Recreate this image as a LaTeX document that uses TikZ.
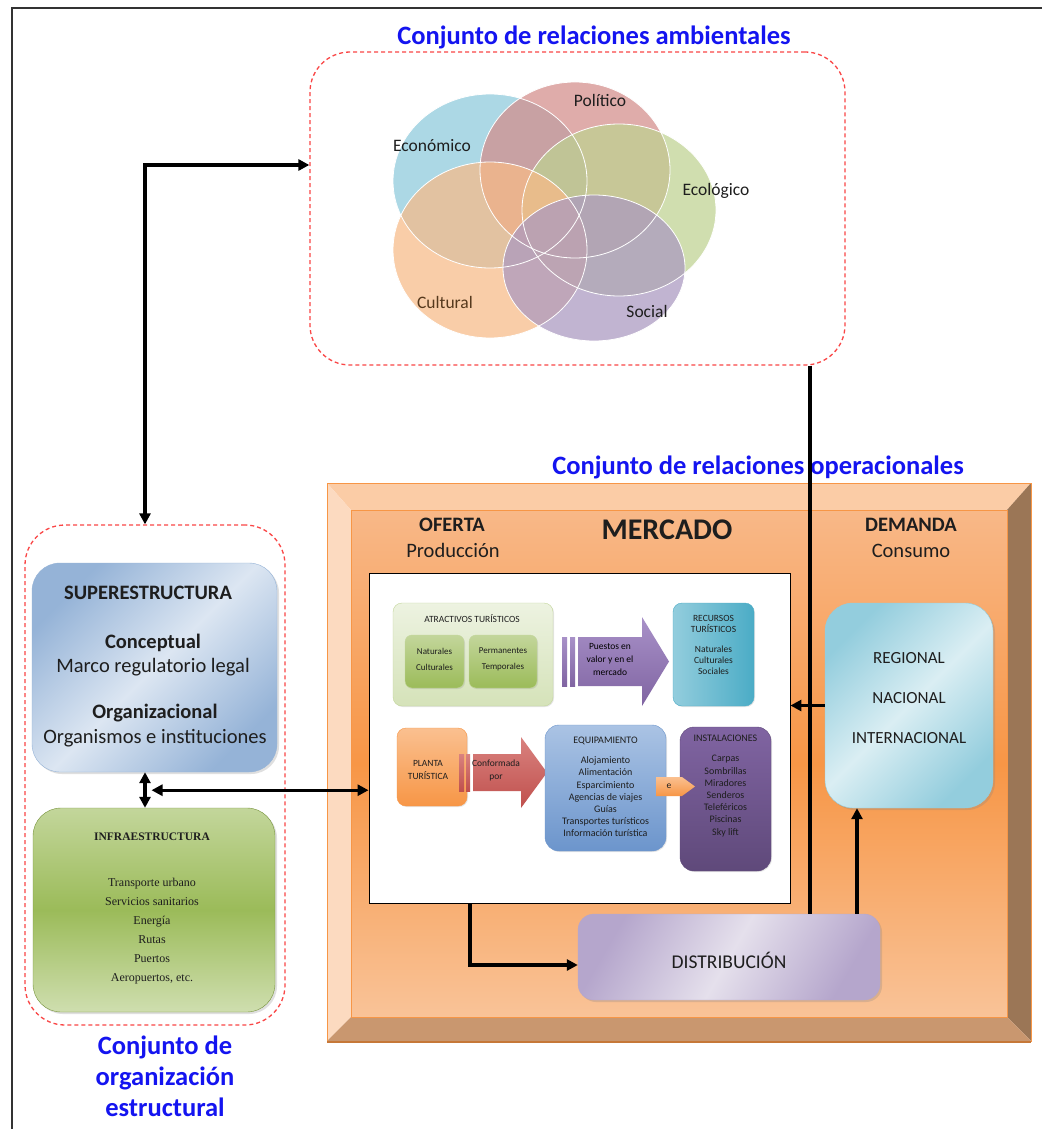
\documentclass[tikz,border=0pt]{standalone}
\usepackage{fontspec}
\setmainfont{Carlito}
\newfontfamily\serifb{Liberation Serif}
\usetikzlibrary{arrows.meta,shadows}
\definecolor{TitleBlue}{RGB}{20,20,240}
\definecolor{DashRed}{RGB}{250,70,70}
\definecolor{cEco}{RGB}{140,202,219}
\definecolor{cPol}{RGB}{212,140,138}
\definecolor{cEcol}{RGB}{190,210,145}
\definecolor{cCul}{RGB}{248,186,135}
\definecolor{cSoc}{RGB}{170,152,192}
\definecolor{bevTop}{RGB}{251,204,166}
\definecolor{bevLeft}{RGB}{252,218,192}
\definecolor{bevRight}{RGB}{155,118,86}
\definecolor{bevBot}{RGB}{201,151,111}
\definecolor{faceTop}{RGB}{248,184,136}
\definecolor{faceMid}{RGB}{247,150,70}
\definecolor{faceBot}{RGB}{249,195,152}
\definecolor{blueDark}{RGB}{149,179,215}
\definecolor{blueLight}{RGB}{220,230,242}
\definecolor{greenA}{RGB}{195,214,155}
\definecolor{greenB}{RGB}{155,187,89}
\definecolor{greenBorder}{RGB}{119,147,60}
\definecolor{tealA}{RGB}{147,205,221}
\definecolor{tealB}{RGB}{75,172,198}
\definecolor{tealLight}{RGB}{218,238,243}
\definecolor{lavA}{RGB}{229,224,236}
\definecolor{lavB}{RGB}{181,166,204}
\definecolor{orA}{RGB}{250,192,144}
\definecolor{orB}{RGB}{247,150,70}
\definecolor{purA}{RGB}{168,145,200}
\definecolor{purB}{RGB}{128,100,162}
\definecolor{purDarkA}{RGB}{128,100,162}
\definecolor{purDarkB}{RGB}{95,73,122}
\definecolor{redA}{RGB}{217,130,127}
\definecolor{redB}{RGB}{192,80,77}
\definecolor{eqA}{RGB}{170,195,228}
\definecolor{eqB}{RGB}{108,149,204}
\definecolor{txt}{RGB}{30,30,30}
\begin{document}
\begin{tikzpicture}[x=1pt,y=-1pt,
  ttl/.style={font=\fontsize{26.5}{31}\selectfont\bfseries, text=TitleBlue, align=center, inner sep=0pt},
  dashbox/.style={draw=DashRed, line width=1.3pt, dash pattern=on 4pt off 3pt, rounded corners=40pt, inner sep=0pt},
  conn/.style={line width=3.2pt, draw=black},
  arr/.style={arrows={-Triangle[length=11pt,width=11pt]}},
  darr/.style={arrows={Triangle[length=11pt,width=11pt]-Triangle[length=11pt,width=11pt]}},
  venn/.style={fill opacity=0.72},
  vlab/.style={font=\fontsize{17.5}{20}\selectfont, text=txt},
  bigbox/.style={rounded corners=28pt, inner sep=0pt, drop shadow={opacity=0.25, shadow xshift=2pt, shadow yshift=-2pt}},
  smallbox/.style={rounded corners=9pt, inner sep=0pt, drop shadow={opacity=0.2, shadow xshift=1pt, shadow yshift=-1pt}},
  tiny/.style={font=\fontsize{9.5}{11}\selectfont, text=txt, align=center, inner sep=0pt},
  small/.style={font=\fontsize{10}{12.2}\selectfont, text=txt, align=center, inner sep=0pt},
  lbl/.style={font=\fontsize{20.5}{24}\selectfont, text=txt, inner sep=0pt},
  lblb/.style={font=\fontsize{20.5}{24}\selectfont\bfseries, text=txt, inner sep=0pt},
  dlbl/.style={font=\fontsize{17}{20}\selectfont, text=txt, inner sep=0pt}
]
\useasboundingbox (0,0) rectangle (1041,1129);
\fill[white] (0,0) rectangle (1041,1129);
% outer frame
\draw[line width=2.5pt, draw=black!80] (12,1140) -- (12,8) -- (1050,8);

% ===== environmental relations =====
\node[ttl] (tenv) at (594,37) {Conjunto de relaciones ambientales};
\node[dashbox, minimum width=535pt, minimum height=313pt] (env) at (577.5,208.5) {};
\fill[venn, fill=cEco] (490,181) ellipse [x radius=97pt, y radius=87pt];
\fill[venn, fill=cPol] (575,170) ellipse [x radius=95pt, y radius=88pt];
\fill[venn, fill=cEcol] (619,210) ellipse [x radius=97pt, y radius=86pt];
\fill[venn, fill=cCul] (490,250) ellipse [x radius=97pt, y radius=88pt];
\fill[venn, fill=cSoc] (594,268) ellipse [x radius=91pt, y radius=73pt];
\draw[white, line width=0.8pt] (490,181) ellipse [x radius=97pt, y radius=87pt];
\draw[white, line width=0.8pt] (575,170) ellipse [x radius=95pt, y radius=88pt];
\draw[white, line width=0.8pt] (619,210) ellipse [x radius=97pt, y radius=86pt];
\draw[white, line width=0.8pt] (490,250) ellipse [x radius=97pt, y radius=88pt];
\draw[white, line width=0.8pt] (594,268) ellipse [x radius=91pt, y radius=73pt];
\node[vlab] (leco) at (432,146) {Económico};
\node[vlab] (lpol) at (600,100) {Político};
\node[vlab] (lecol) at (716,191) {Ecológico};
\node[vlab, text=black!55!brown] (lcul) at (445,302) {Cultural};
\node[vlab] (lsoc) at (647,311) {Social};

% ===== operational relations frame =====
\node[ttl] (top) at (758,467) {Conjunto de relaciones operacionales};
\fill[bevTop] (327,483) -- (1031,483) -- (1007,510) -- (351,510) -- cycle;
\fill[bevLeft] (327,483) -- (351,510) -- (351,1017) -- (327,1041) -- cycle;
\fill[bevRight] (1031,483) -- (1031,1041) -- (1007,1017) -- (1007,510) -- cycle;
\fill[bevBot] (327,1041) -- (1031,1041) -- (1007,1017) -- (351,1017) -- cycle;
\shade[top color=faceTop, bottom color=faceBot, middle color=faceMid] (351,510) rectangle (1007,1017);
\draw[orB, line width=0.8pt] (327,483) rectangle (1031,1041);
\draw[orB!80!black, line width=2pt] (327,1042) -- (1031,1042);
\draw[orB, line width=0.6pt] (351,510) rectangle (1007,1017);

\node[lblb] (oferta) at (452,525) {OFERTA};
\node[lbl] (prod) at (453,550) {Producción};
\node[font=\fontsize{30}{32}\selectfont\bfseries, text=txt] (merc) at (667,530) {MERCADO};
\node[lblb] (dema) at (911,525) {DEMANDA};
\node[lbl] (cons) at (911,551) {Consumo};

% white box
\node[draw=black, line width=0.9pt, fill=white, minimum width=421pt, minimum height=330pt, inner sep=0pt] (white) at (579.5,738) {};

% atractivos
\node[smallbox, draw=greenA, top color=white!70!greenA, bottom color=greenA!70, minimum width=160pt, minimum height=103pt] (atr) at (473,654.5) {};
\node[tiny] (atrt) at (472,619) {ATRACTIVOS TURÍSTICOS};
\node[smallbox, draw=greenA, top color=greenA, bottom color=greenB, minimum width=59pt, minimum height=53pt, rounded corners=7pt] (nat) at (434.5,661.5) {};
\node[tiny, font=\fontsize{9}{11}\selectfont] (natt) at (434.5,659) {Naturales\\[5pt]Culturales};
\node[smallbox, draw=greenA, top color=greenA, bottom color=greenB, minimum width=68pt, minimum height=53pt, rounded corners=7pt] (perm) at (503,661.5) {};
\node[tiny, font=\fontsize{9}{11}\selectfont] (permt) at (503,659) {Permanentes\\[5pt]Temporales};

% purple fat arrow
\shade[top color=purA, bottom color=purB] (562,637) rectangle (567,686);
\shade[top color=purA, bottom color=purB] (570,637) rectangle (575,686);
\shade[top color=purA, bottom color=purB] (578,637) -- (642,637) -- (642,617) -- (669,661.5) -- (642,706) -- (642,686) -- (578,686) -- cycle;
\node[tiny, text=black, font=\fontsize{9.5}{13}\selectfont] (puestos) at (610,659) {Puestos en\\valor y en el\\mercado};

% recursos
\node[smallbox, draw=tealB, left color=tealA, right color=tealB, minimum width=81pt, minimum height=103pt] (rec) at (713.5,654.5) {};
\node[tiny] (rect) at (713.5,645) {RECURSOS\\TURÍSTICOS\\[9pt]Naturales\\Culturales\\Sociales};

% planta
\node[smallbox, draw=orB, top color=orA, bottom color=orB, minimum width=70pt, minimum height=78pt] (planta) at (432,767) {};
\node[tiny, font=\fontsize{9.5}{13}\selectfont] (plantat) at (428,770) {PLANTA\\TURÍSTICA};
% red fat arrow
\shade[top color=redA, bottom color=redB] (459,754) rectangle (464,791);
\shade[top color=redA, bottom color=redB] (466,754) rectangle (470,791);
\shade[top color=redA, bottom color=redB] (473,754) -- (521,754) -- (521,737) -- (547,772.5) -- (521,808) -- (521,791) -- (473,791) -- cycle;
\node[tiny, font=\fontsize{9.5}{13}\selectfont] (conf) at (496,770) {Conformada\\por};

% equipamiento
\node[smallbox, draw=eqB, top color=eqA, bottom color=eqB, minimum width=121pt, minimum height=126pt, rounded corners=14pt] (equip) at (605.5,788) {};
\node[small] (equipt) at (605.5,787) {EQUIPAMIENTO\\[8pt]Alojamiento\\Alimentación\\Esparcimiento\\Agencias de viajes\\Guías\\Transportes turísticos\\Información turística};

% instalaciones
\node[smallbox, draw=purDarkB, top color=purDarkA, bottom color=purDarkB, minimum width=91pt, minimum height=144pt, rounded corners=14pt] (inst) at (725.5,799) {};
\node[small] (instt) at (725.5,786) {INSTALACIONES\\[8pt]Carpas\\Sombrillas\\Miradores\\Senderos\\Teleféricos\\Piscinas\\Sky lift};

% small orange arrow "e"
\shade[top color=orA, bottom color=orB] (656,777) -- (682,777) -- (695,786.5) -- (682,796) -- (656,796) -- cycle;
\node[tiny] (econ) at (669,786.5) {e};

% demanda box
\node[bigbox, draw=tealA, left color=tealA, right color=tealA, middle color=tealLight, shading angle=45, minimum width=168pt, minimum height=205pt] (dem) at (909,705.5) {};
\node[dlbl] (reg) at (909,658) {REGIONAL};
\node[dlbl] (nac) at (909,698) {NACIONAL};
\node[dlbl] (int) at (909,738) {INTERNACIONAL};

% distribucion
\node[bigbox, rounded corners=16pt, draw=lavB, left color=lavB, right color=lavB, middle color=lavA, shading angle=60, minimum width=302pt, minimum height=86pt] (dist) at (729,957) {};
\node[font=\fontsize{19.5}{22}\selectfont, text=txt] (distt) at (729,960) {DISTRIBUCIÓN};

% ===== structural organisation =====
\node[dashbox, minimum width=260pt, minimum height=500pt] (leftdash) at (155,775) {};
\node[bigbox, draw=blueDark, left color=blueDark, right color=blueDark, middle color=blueLight, shading angle=45, minimum width=245pt, minimum height=209pt] (super) at (154.5,667.5) {};
\node[lblb] (supt) at (148,593) {SUPERESTRUCTURA};
\node[lblb] (conc) at (153,643) {Conceptual};
\node[lbl] (marco) at (153,667) {Marco regulatorio legal};
\node[lblb] (orgz) at (155,713) {Organizacional};
\node[lbl] (orgs) at (155,738) {Organismos e instituciones};

\node[bigbox, draw=greenBorder, top color=greenA, bottom color=greenA!80!white, middle color=greenB, minimum width=242pt, minimum height=204pt] (infra) at (154,910) {};
\node[font=\serifb\fontsize{11.5}{15}\selectfont\bfseries, text=txt] (inft) at (152,837) {INFRAESTRUCTURA};
\node[font=\serifb\fontsize{12}{19}\selectfont, text=txt, align=center] (infl) at (152,931) {Transporte urbano\\Servicios sanitarios\\Energía\\Rutas\\Puertos\\Aeropuertos, etc.};

\node[ttl] (tstr) at (165,1076) {Conjunto de\\organización\\estructural};

% ===== connectors =====
\draw[conn, darr] ([xshift=-10pt]leftdash.north) |- ([yshift=43.5pt]env.west);
\draw[conn] ([xshift=232.5pt]env.south) -- ([xshift=81pt]dist.north);
\draw[conn, arr] (dem.west) -- (dem.west -| white.east);
\draw[conn, arr] ([xshift=128pt]dist.north) -- ([xshift=128pt]dist.north |- dem.south);
\draw[conn, arr] ([xshift=-109.5pt]white.south) |- ([yshift=-8pt]dist.west);
\draw[conn, darr] ([xshift=-9.5pt]super.south) -- ([xshift=-9.5pt]super.south |- infra.north);
\draw[conn, darr] ([xshift=-3pt,yshift=-18pt]super.south) -- ([yshift=-18pt]super.south -| white.west);
\end{tikzpicture}
\end{document}
